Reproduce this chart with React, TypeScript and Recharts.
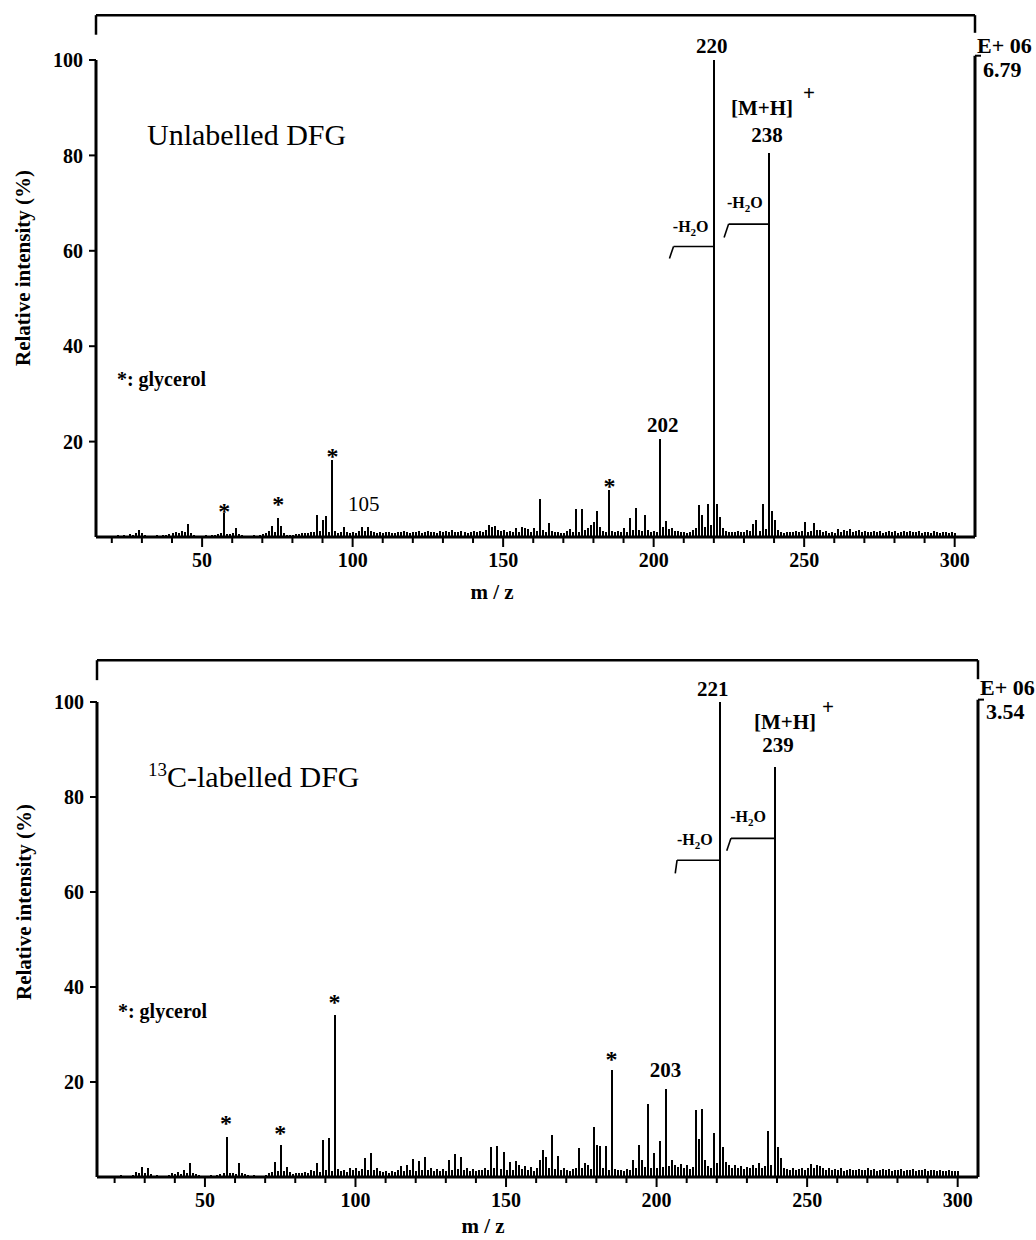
import React from "react"
import { Bar, ComposedChart, ReferenceDot, ReferenceLine, XAxis, YAxis } from "recharts"

const SERIF = "'Liberation Serif', 'Times New Roman', serif"

// tick values
const mzTicks = [20, 30, 40, 50, 60, 70, 80, 90, 100, 110, 120, 130, 140, 150, 160, 170, 180, 190, 200, 210, 220, 230, 240, 250, 260, 270, 280, 290, 300]
const intensityTicks = [20, 40, 60, 80, 100]

// m/z channels shared by both spectra
const mzValues = [
  20, 21, 22, 23, 24, 25, 26, 27, 28, 29,
  30, 31, 32, 33, 34, 35, 36, 37, 38, 39,
  40, 41, 42, 43, 44, 45, 46, 47, 48, 49,
  50, 51, 52, 53, 54, 55, 56, 57, 58, 59,
  60, 61, 62, 63, 64, 65, 66, 67, 68, 69,
  70, 71, 72, 73, 74, 75, 76, 77, 78, 79,
  80, 81, 82, 83, 84, 85, 86, 87, 88, 89,
  90, 91, 92, 93, 94, 95, 96, 97, 98, 99,
  100, 101, 102, 103, 104, 105, 106, 107, 108, 109,
  110, 111, 112, 113, 114, 115, 116, 117, 118, 119,
  120, 121, 122, 123, 124, 125, 126, 127, 128, 129,
  130, 131, 132, 133, 134, 135, 136, 137, 138, 139,
  140, 141, 142, 143, 144, 145, 146, 147, 148, 149,
  150, 151, 152, 153, 154, 155, 156, 157, 158, 159,
  160, 161, 162, 163, 164, 165, 166, 167, 168, 169,
  170, 171, 172, 173, 174, 175, 176, 177, 178, 179,
  180, 181, 182, 183, 184, 185, 186, 187, 188, 189,
  190, 191, 192, 193, 194, 195, 196, 197, 198, 199,
  200, 201, 202, 203, 204, 205, 206, 207, 208, 209,
  210, 211, 212, 213, 214, 215, 216, 217, 218, 219,
  220, 221, 222, 223, 224, 225, 226, 227, 228, 229,
  230, 231, 232, 233, 234, 235, 236, 237, 238, 239,
  240, 241, 242, 243, 244, 245, 246, 247, 248, 249,
  250, 251, 252, 253, 254, 255, 256, 257, 258, 259,
  260, 261, 262, 263, 264, 265, 266, 267, 268, 269,
  270, 271, 272, 273, 274, 275, 276, 277, 278, 279,
  280, 281, 282, 283, 284, 285, 286, 287, 288, 289,
  290, 291, 292, 293, 294, 295, 296, 297, 298, 299,
  300,
]

// relative intensity (%), unlabelled DFG
const unlabelledIntensity = [
  0.3, 0.2, 0.5, 0.3, 0.4, 0.2, 0.6, 0.5, 0.8, 1.4,
  0.9, 0.4, 0.2, 0.3, 0.2, 0.4, 0.3, 0.5, 0.4, 0.7,
  0.8, 1.0, 0.9, 1.3, 1.0, 2.7, 0.8, 0.5, 0.3, 0.3,
  0.2, 0.4, 0.3, 0.5, 0.4, 0.6, 0.8, 5.0, 0.7, 0.6,
  0.8, 1.9, 0.7, 0.5, 0.3, 0.3, 0.2, 0.4, 0.3, 0.5,
  0.6, 0.9, 1.2, 2.4, 1.0, 4.0, 2.3, 0.9, 0.5, 0.5,
  0.4, 0.6, 0.7, 0.8, 0.9, 0.9, 1.0, 1.1, 4.6, 1.2,
  3.6, 4.3, 1.0, 16.2, 1.2, 0.9, 1.0, 2.0, 1.0, 0.9,
  1.1, 0.9, 1.2, 2.2, 1.2, 2.0, 1.3, 1.0, 0.9, 1.0,
  0.9, 1.0, 1.1, 0.8, 0.9, 1.1, 1.0, 1.2, 1.0, 0.9,
  1.1, 1.0, 1.2, 0.9, 1.0, 1.3, 1.0, 1.1, 0.9, 1.2,
  1.0, 1.3, 1.0, 1.4, 1.1, 1.0, 1.3, 1.0, 0.9, 1.1,
  1.2, 1.0, 1.3, 1.1, 1.5, 2.6, 2.2, 2.4, 1.5, 1.2,
  1.4, 1.0, 1.2, 1.0, 1.8, 1.1, 2.0, 1.8, 1.6, 1.0,
  1.8, 1.2, 8.0, 1.4, 1.0, 3.0, 1.2, 1.0, 1.1, 0.8,
  0.9, 1.2, 1.6, 1.0, 5.9, 1.0, 5.9, 1.5, 1.8, 2.6,
  3.2, 5.4, 2.2, 1.3, 1.0, 9.8, 1.2, 1.0, 1.2, 1.0,
  1.9, 1.0, 3.9, 1.4, 6.1, 1.5, 1.2, 4.6, 1.4, 1.1,
  1.2, 1.0, 20.5, 2.0, 3.4, 1.6, 1.8, 1.2, 1.3, 1.1,
  1.0, 0.9, 1.1, 1.4, 1.8, 6.8, 4.6, 2.0, 7.0, 2.5,
  100, 7.0, 4.2, 1.8, 1.2, 1.0, 1.1, 1.0, 1.2, 1.0,
  1.1, 1.4, 1.3, 2.7, 3.5, 1.2, 6.9, 1.6, 80.5, 5.4,
  3.6, 1.4, 1.0, 0.9, 1.0, 1.1, 1.0, 1.3, 1.0, 1.2,
  3.2, 1.1, 1.2, 3.0, 1.4, 1.5, 1.0, 1.2, 0.9, 1.0,
  0.9, 1.6, 1.0, 1.5, 1.3, 1.6, 1.0, 1.2, 1.4, 1.0,
  1.2, 1.0, 1.1, 1.3, 1.0, 1.2, 0.9, 1.1, 1.3, 1.0,
  1.2, 0.9, 1.1, 1.3, 1.0, 1.2, 1.1, 1.0, 1.2, 0.9,
  1.0, 1.1, 0.9, 1.2, 1.0, 0.9, 1.1, 1.0, 0.9, 1.0,
  0.8,
]

// relative intensity (%), 13C-labelled DFG
const labelledIntensity = [
  0.3, 0.2, 0.4, 0.2, 0.3, 0.2, 0.5, 1.0, 0.8, 2.2,
  0.8, 1.9, 0.6, 0.3, 0.4, 0.2, 0.3, 0.2, 0.5, 0.8,
  0.6, 1.0, 0.7, 1.5, 0.8, 2.9, 0.9, 0.6, 0.4, 0.3,
  0.3, 0.2, 0.4, 0.3, 0.5, 0.6, 0.9, 8.5, 0.8, 0.9,
  0.7, 2.9, 0.9, 0.6, 0.5, 0.3, 0.4, 0.2, 0.3, 0.3,
  0.5, 0.8, 1.0, 3.2, 1.2, 6.7, 1.2, 2.1, 1.0, 0.7,
  0.8, 0.9, 0.8, 1.0, 0.9, 1.4, 1.2, 2.9, 1.0, 7.8,
  1.5, 8.3, 1.2, 34.2, 1.6, 1.2, 1.5, 1.0, 1.8, 1.5,
  2.0, 1.3, 1.6, 4.0, 1.4, 5.0, 1.5, 2.0, 1.2, 1.0,
  1.3, 0.8, 1.2, 1.0, 1.5, 2.4, 1.2, 2.5, 1.4, 3.7,
  1.3, 3.3, 1.5, 4.2, 1.4, 1.8, 1.2, 1.6, 1.3, 1.7,
  1.2, 3.5, 1.5, 4.8, 1.6, 4.3, 1.5, 1.8, 1.3, 1.6,
  1.2, 1.5, 1.4, 2.0, 1.5, 6.4, 1.8, 6.6, 1.6, 5.3,
  1.4, 3.2, 1.5, 3.4, 2.5, 1.6, 2.4, 1.5, 2.2, 1.3,
  1.8, 3.5, 5.7, 4.2, 2.0, 8.8, 1.6, 4.4, 1.5, 1.8,
  1.5, 1.3, 1.6, 2.0, 6.1, 1.8, 3.0, 2.5, 1.6, 10.6,
  6.7, 6.5, 1.8, 6.5, 1.4, 22.5, 1.6, 1.4, 1.5, 1.3,
  1.6, 1.5, 3.5, 2.0, 6.7, 3.6, 2.2, 15.3, 1.8, 5.0,
  2.0, 7.6, 2.2, 18.5, 2.4, 3.5, 2.6, 2.2, 2.8, 2.0,
  2.6, 1.6, 2.2, 14.1, 8.0, 14.3, 3.5, 2.4, 2.0, 9.3,
  3.0, 100, 6.3, 3.2, 2.5, 2.0, 2.6, 1.8, 2.4, 1.6,
  2.2, 1.8, 2.6, 1.9, 3.0, 2.0, 2.4, 9.7, 2.5, 86.4,
  6.3, 4.0, 1.8, 1.6, 1.5, 1.8, 1.4, 1.6, 1.8, 1.5,
  2.0, 2.8, 1.8, 2.6, 2.4, 1.8, 1.5, 2.0, 1.4, 1.6,
  1.5, 1.8, 1.3, 1.5, 1.6, 1.4, 1.5, 1.7, 1.4, 1.5,
  1.8, 1.4, 1.6, 1.3, 1.5, 1.6, 1.4, 1.7, 1.3, 1.5,
  1.4, 1.6, 1.3, 1.5, 1.4, 1.6, 1.3, 1.5, 1.4, 1.6,
  1.3, 1.4, 1.5, 1.3, 1.4, 1.2, 1.3, 1.4, 1.2, 1.3,
  1.2,
]

// glycerol peaks marked with an asterisk, and where the asterisk sits (%)
const glycerolMz = [57, 75, 93, 185]
const unlabelledStarLevel = [6.3, 7.8, 17.8, 11.5]
const labelledStarLevel = [12.2, 10.1, 37.7, 25.7]

const unlabelledData = mzValues.map((mz, k) => ({ mz, i: unlabelledIntensity[k] }))
const labelledData = mzValues.map((mz, k) => ({ mz, i: labelledIntensity[k] }))

function MzTick(props: any) {
  const { x, y, payload } = props
  const major = payload.value % 50 === 0
  return (
    <g>
      <line x1={x} x2={x} y1={y} y2={y + (major ? 10 : 6)} stroke="#000" strokeWidth={2} />
      {major && (
        <text x={x} y={y + 30} textAnchor="middle" fontFamily={SERIF} fontSize={20} fontWeight="bold" fill="#000">
          {payload.value}
        </text>
      )}
    </g>
  )
}

function note(key: string, x: number, y: number, dx: number, dy: number, size: number, body: React.ReactNode, bold = true, anchor = "middle") {
  return (
    <ReferenceDot
      key={key}
      x={x}
      y={y}
      r={0}
      fill="none"
      stroke="none"
      ifOverflow="visible"
      label={(p: any) => (
        <text
          x={p.viewBox.x + dx}
          y={p.viewBox.y + dy}
          textAnchor={anchor}
          fontFamily={SERIF}
          fontSize={size}
          fontWeight={bold ? "bold" : "normal"}
          fill="#000"
        >
          {body}
        </text>
      )}
    />
  )
}

function seg(key: string, x1: number, y1: number, x2: number, y2: number, w = 1.6) {
  return (
    <ReferenceLine
      key={key}
      segment={[{ x: x1, y: y1 }, { x: x2, y: y2 }]}
      stroke="#000"
      strokeWidth={w}
      ifOverflow="visible"
    />
  )
}

const water = (
  <>
    <tspan>-H</tspan>
    <tspan fontSize={11} dy={4}>2</tspan>
    <tspan dy={-4}>O</tspan>
  </>
)

// frame above the plot, right-hand scale line and the absolute-intensity factor
function frame(domain: [number, number], top: number, leftDrop: number, rightDrop: number, hook: number, factor: string) {
  const [lo, hi] = domain
  return [
    seg("f1", lo, top, hi, top, 2.5),
    seg("f2", lo, top, lo, leftDrop, 2.5),
    seg("f3", hi, top, hi, rightDrop, 2.5),
    seg("r1", hi, 0, hi, hook, 3),
    seg("r2", hi, hook, hi + 2, hook, 2),
    note("e06", hi, 100, 2, -7, 22, "E+ 06", true, "start"),
    note("fac", hi, 100, 8, 17, 22, factor, true, "start"),
  ]
}

function Spectrum(props: any) {
  const { data, domain, height, margin, yTitleDy, xTitleDx, xTitleDy, notes } = props
  return (
    <ComposedChart width={1036} height={height} data={data} margin={margin}>
      <XAxis
        type="number"
        dataKey="mz"
        domain={domain}
        allowDataOverflow
        ticks={mzTicks}
        interval={0}
        tickLine={false}
        tickSize={0}
        tickMargin={0}
        height={30}
        axisLine={{ stroke: "#000", strokeWidth: 3 }}
        tick={(p: any) => <MzTick {...p} />}
        label={(p: any) => (
          <text x={p.viewBox.x + xTitleDx} y={p.viewBox.y + xTitleDy} textAnchor="middle" fontFamily={SERIF} fontSize={21} fontWeight="bold" fill="#000">
            m / z
          </text>
        )}
      />
      <YAxis
        domain={[0, 100]}
        ticks={intensityTicks}
        width={40}
        tickSize={7}
        tickMargin={6}
        axisLine={{ stroke: "#000", strokeWidth: 3 }}
        tickLine={{ stroke: "#000", strokeWidth: 2 }}
        tick={{ fontFamily: SERIF, fontSize: 20, fontWeight: "bold", fill: "#000" }}
        label={(p: any) => {
          const x = p.viewBox.x - 26
          const y = p.viewBox.y + yTitleDy
          return (
            <text x={x} y={y} transform={`rotate(-90 ${x} ${y})`} textAnchor="middle" fontFamily={SERIF} fontSize={21} fontWeight="bold" fill="#000">
              Relative intensity (%)
            </text>
          )
        }}
      />
      <Bar dataKey="i" fill="#000" barSize={2} shapeRendering="crispEdges" isAnimationActive={false} />
      {notes}
    </ComposedChart>
  )
}

export default function App() {
  const topDomain: [number, number] = [14.75, 306.75]
  const bottomDomain: [number, number] = [14.15, 306.75]

  const topNotes = [
    ...frame(topDomain, 109.4, 105.3, 105.7, 100.9, "6.79"),
    note("title", 31.7, 82.2, 0, 0, 30, "Unlabelled DFG", false, "start"),
    note("gly", 21.7, 31.7, 0, 0, 20, "*: glycerol", true, "start"),
    ...glycerolMz.map((mz, k) => note(`s${k}`, mz, unlabelledStarLevel[k], 1, 12, 24, "*")),
    note("p220", 220, 100, -2, -7, 21, "220"),
    note("mh", 238, 80.5, -6, -38, 21, "[M+H]"),
    note("plus", 238, 80.5, 41, -53, 21, "+"),
    note("p238", 238, 80.5, -1, -11, 21, "238"),
    note("p202", 202, 20.5, 3, -7, 21, "202"),
    note("p105", 105, 2.0, -4, -16, 21, "105", false),
    seg("b1", 220, 60.9, 206.6, 60.9),
    seg("b2", 206.6, 60.9, 205.25, 58.4),
    seg("b3", 238, 65.6, 224.9, 65.6),
    seg("b4", 224.9, 65.6, 223.4, 62.8),
    note("w1", 212.3, 64, 0, 0, 16, water),
    note("w2", 230.3, 69, 0, 0, 16, water),
  ]

  const bottomNotes = [
    ...frame(bottomDomain, 108.8, 104.6, 104.8, 100.5, "3.54"),
    note(
      "title",
      31.1,
      82.1,
      0,
      0,
      30,
      <>
        <tspan fontSize={19} dy={-11}>13</tspan>
        <tspan dy={11}>C-labelled DFG</tspan>
      </>,
      false,
      "start"
    ),
    note("gly", 21.1, 33.5, 0, 0, 20, "*: glycerol", true, "start"),
    ...glycerolMz.map((mz, k) => note(`s${k}`, mz, labelledStarLevel[k], 0, 12, 24, "*")),
    note("p221", 221, 100, -7, -6, 21, "221"),
    note("mh", 239, 86.4, 11, -38, 21, "[M+H]"),
    note("plus", 239, 86.4, 54, -53, 21, "+"),
    note("p239", 239, 86.4, 4, -15, 21, "239"),
    note("p203", 203, 18.5, 0, -12, 21, "203"),
    seg("b1", 221, 66.7, 206.8, 66.7),
    seg("b2", 206.8, 66.7, 206.2, 63.9),
    seg("b3", 239, 71.3, 224.7, 71.3),
    seg("b4", 224.7, 71.3, 223.3, 68.7),
    note("w1", 212.7, 69.9, 0, 0, 16, water),
    note("w2", 230.4, 74.8, 0, 0, 16, water),
  ]

  return (
    <div style={{ position: "absolute", left: 0, top: 0, width: 1036, height: 1240, background: "#fff", overflow: "hidden" }}>
      <div style={{ position: "absolute", left: 0, top: 0 }}>
        <Spectrum
          data={unlabelledData}
          domain={topDomain}
          height={620}
          margin={{ top: 60, right: 61, bottom: 53, left: 56 }}
          yTitleDy={208}
          xTitleDx={396}
          xTitleDy={62}
          notes={topNotes}
        />
      </div>
      <div style={{ position: "absolute", left: 0, top: 642 }}>
        <Spectrum
          data={labelledData}
          domain={bottomDomain}
          height={598}
          margin={{ top: 60, right: 58, bottom: 33, left: 57 }}
          yTitleDy={200}
          xTitleDx={386}
          xTitleDy={56}
          notes={bottomNotes}
        />
      </div>
    </div>
  )
}
